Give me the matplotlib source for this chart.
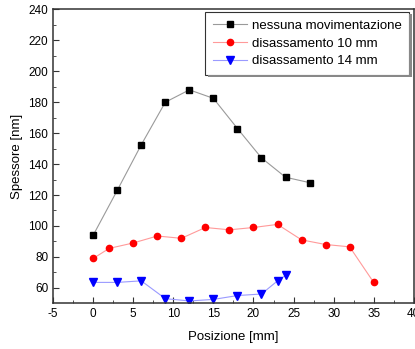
import matplotlib
matplotlib.use("Agg")
import matplotlib.pyplot as plt

plt.rcParams['font.family'] = ['Liberation Sans', 'DejaVu Sans']
plt.rcParams['axes.unicode_minus'] = False

# Thickness measurements along the position axis
pos_none = [0, 3, 6, 9, 12, 15, 18, 21, 24, 27]
thk_none = [94, 123, 152.5, 180, 188, 182.5, 163, 144, 131.5, 128]

pos_10 = [0, 2, 5, 8, 11, 14, 17, 20, 23, 26, 29, 32, 35]
thk_10 = [79, 85.5, 89, 93.5, 92, 99, 97.5, 99, 101, 91, 88, 86.5, 63.5]

pos_14 = [0, 3, 6, 9, 12, 15, 18, 21, 23, 24]
thk_14 = [63.5, 63.5, 64.5, 53, 51.5, 52.5, 55, 56, 64.5, 68]

labels = ["nessuna movimentazione", "disassamento 10 mm", "disassamento 14 mm"]

xticks = [-5, 0, 5, 10, 15, 20, 25, 30, 35, 40]
yticks = [60, 80, 100, 120, 140, 160, 180, 200, 220, 240]

fig = plt.figure(figsize=(4.15, 3.49), dpi=100)
ax = fig.add_axes([0.128, 0.131, 0.869, 0.842])

ax.plot(pos_none, thk_none, color='#9a9a9a', lw=0.8, marker='s', ms=3.9,
        mfc='black', mec='black', label=labels[0])
ax.plot(pos_10, thk_10, color='#ff9a9a', lw=0.8, marker='o', ms=4.5,
        mfc='red', mec='red', label=labels[1])
ax.plot(pos_14, thk_14, color='#9a9aff', lw=0.8, marker='v', ms=5.6,
        mfc='blue', mec='blue', label=labels[2])

ax.set_xlim(-5, 40)
ax.set_ylim(50, 240)
ax.set_xticks(xticks)
ax.set_yticks(yticks)
ax.set_xticks([x + 2.5 for x in xticks[:-1]], minor=True)
ax.set_yticks([y + 10 for y in [50] + yticks[:-1]], minor=True)
ax.tick_params(which='both', direction='in', top=False, right=False,
               labelsize=8.5, color='#333333')
ax.tick_params(which='major', length=4)
ax.tick_params(which='minor', length=2)
for s in ax.spines.values():
    s.set_color('#333333')
    s.set_linewidth(1.1)

ax.set_xlabel("Posizione [mm]", fontsize=9.5, labelpad=8)
ax.set_ylabel("Spessore [nm]", fontsize=9.5, labelpad=4)

leg = ax.legend(loc='upper right', bbox_to_anchor=(0.988, 0.99), fontsize=9.5,
                frameon=True, fancybox=False, shadow=False,
                handlelength=2.6, handletextpad=0.4, borderpad=0.55,
                labelspacing=0.42, borderaxespad=0.0)
leg.get_frame().set_edgecolor('black')
leg.get_frame().set_linewidth(0.8)

fig.canvas.draw()
bb = leg.get_window_extent().transformed(fig.transFigure.inverted())
# drop shadow on the right and bottom of the legend box
sh_r = plt.Rectangle((bb.x1, bb.y0 - 0.006), 0.006, bb.height, transform=fig.transFigure,
                     color='#888888', lw=0, zorder=4)
sh_b = plt.Rectangle((bb.x0 + 0.006, bb.y0 - 0.006), bb.width, 0.006, transform=fig.transFigure,
                     color='#888888', lw=0, zorder=4)
fig.add_artist(sh_r)
fig.add_artist(sh_b)

fig.savefig("out.png", dpi=100)
